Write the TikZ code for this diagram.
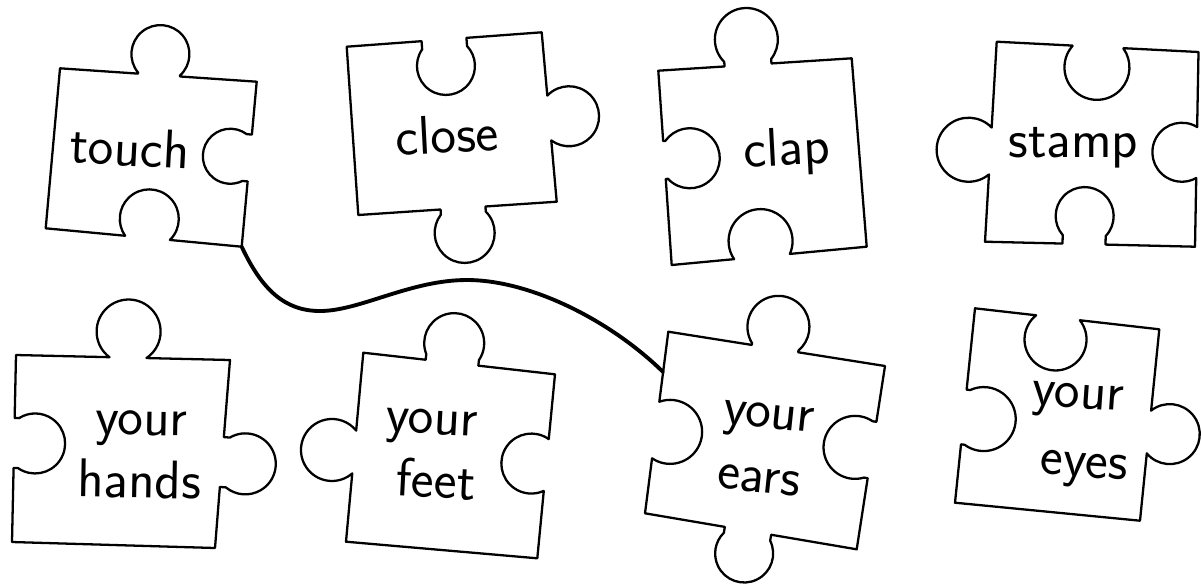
\documentclass[tikz,border=0pt]{standalone}
\usepackage{fontspec}
% puzzle-piece helpers: all numbers are image pixels (y downward)
\newcommand\PZstart[2]{\def\PZax{#1}\def\PZay{#2}\edef\PZpath{(#1,-#2)}}
% #1 type (1 tab, -1 notch, 0 flat), #2 knob position (x or y), #3 head radius,
% #4 half opening, #5 depth, #6 #7 end corner
\newcommand\PZedge[7]{%
  \ifnum#1=0\relax\else
    \pgfmathsetmacro\PZlen{veclen(#6-\PZax,#7-\PZay)}%
    \pgfmathsetmacro\PZux{(#6-\PZax)/\PZlen}%
    \pgfmathsetmacro\PZuy{(#7-\PZay)/\PZlen}%
    \pgfmathsetmacro\PZadx{abs(#6-\PZax)}%
    \pgfmathsetmacro\PZady{abs(#7-\PZay)}%
    \ifdim\PZadx pt>\PZady pt
      \pgfmathsetmacro\PZf{(#2-\PZax)/(#6-\PZax)}%
    \else
      \pgfmathsetmacro\PZf{(#2-\PZay)/(#7-\PZay)}%
    \fi
    \pgfmathsetmacro\PZpx{\PZax+\PZf*(#6-\PZax)}%
    \pgfmathsetmacro\PZpy{\PZay+\PZf*(#7-\PZay)}%
    \pgfmathsetmacro\PZc{sqrt(max(#3*#3-#4*#4,0))}%
    \pgfmathsetmacro\PZn{max(#5-#3-\PZc,0)}%
    \pgfmathsetmacro\PZal{asin(\PZc/#3)}%
    \pgfmathsetmacro\PZphi{atan2(\PZuy,\PZux)}%
    \pgfmathsetmacro\PZmx{\PZpx-#4*(\PZux)}%
    \pgfmathsetmacro\PZmy{-(\PZpy-#4*(\PZuy))}%
    \pgfmathsetmacro\PZnx{\PZpx-#4*(\PZux)+(#1)*\PZn*(\PZuy)}%
    \pgfmathsetmacro\PZny{-(\PZpy-#4*(\PZuy)-(#1)*\PZn*(\PZux))}%
    \pgfmathsetmacro\PZqx{\PZpx+#4*(\PZux)}%
    \pgfmathsetmacro\PZqy{-(\PZpy+#4*(\PZuy))}%
    \pgfmathsetmacro\PZts{-((\PZphi)+180-(#1)*\PZal)}%
    \pgfmathsetmacro\PZte{-((\PZphi)+180+(#1)*(180+\PZal))}%
    \edef\PZpath{\PZpath -- (\PZmx,\PZmy) -- (\PZnx,\PZny) arc[start angle=\PZts,end angle=\PZte,radius=#3] -- (\PZqx,\PZqy)}%
  \fi
  \edef\PZpath{\PZpath -- (#6,-#7)}%
  \def\PZax{#6}\def\PZay{#7}%
}
\newcommand\PZdo[1]{\draw[piece] #1 -- cycle;}
\newcommand\PZdraw{\expandafter\PZdo\expandafter{\PZpath}}
\begin{document}
\begin{tikzpicture}[x=0.02cm, y=0.02cm,
  piece/.style={line width=1.3pt, line join=round},
  link/.style={line width=2.2pt, line cap=round},
  lbl/.style={font=\fontsize{31}{36}\selectfont\sffamily, inner sep=0pt, anchor=base}]
\useasboundingbox (0,0) rectangle (1201,-586);

% touch
\PZstart{60}{68.3}
\PZedge{1}{159}{29}{21}{50}{256.7}{81.7}
\PZedge{-1}{158}{27.5}{23.5}{47}{241.7}{246.7}
\PZedge{-1}{147.5}{29.5}{22.5}{48}{45.7}{228.3}
\PZedge{0}{0}{0}{0}{0}{60}{68.3}
\PZdraw
\node[lbl, rotate=-3] (touch) at (129,-166) {touch};
\coordinate (touch-br) at (241.7,-246.7);

% close
\PZstart{346.7}{46.7}
\PZedge{-1}{444}{29}{22.5}{55.5}{541.7}{32.3}
\PZedge{1}{118}{30}{22.5}{48}{556.7}{201.7}
\PZedge{1}{463}{30}{22.5}{55}{358.3}{215}
\PZedge{0}{0}{0}{0}{0}{346.7}{46.7}
\PZdraw
\node[lbl, rotate=3] (close) at (448,-153) {close};

% clap
\PZstart{658.3}{70.7}
\PZedge{1}{748}{31.5}{23.5}{57}{851.7}{58.3}
\PZedge{0}{0}{0}{0}{0}{866.7}{246.7}
\PZedge{-1}{762}{32}{28}{47}{671.7}{265}
\PZedge{-1}{160}{30}{19}{55.4}{658.3}{70.7}
\PZdraw
\node[lbl, rotate=3] (clap) at (787.5,-165) {clap};

% stamp
\PZstart{996.7}{41.7}
\PZedge{-1}{1098}{32.5}{25.5}{53}{1198.5}{52}
\PZedge{-1}{152.5}{29.5}{25.5}{44}{1195}{246.7}
\PZedge{-1}{1084}{29}{21.5}{57}{985}{241.7}
\PZedge{1}{151}{32}{23.5}{52.5}{996.7}{41.7}
\PZdraw
\node[lbl] (stamp) at (1073.5,-157) {stamp};

% your hands
\PZstart{16}{355}
\PZedge{1}{128}{32}{18.5}{57.6}{230}{360}
\PZedge{1}{462}{30.5}{25}{54}{215}{548}
\PZedge{0}{0}{0}{0}{0}{12}{542}
\PZedge{-1}{443}{30}{25}{51}{16}{355}
\PZdraw
\node[lbl, rotate=-1] (hands1) at (141.5,-435) {your};
\node[lbl, rotate=-1] (hands) at (139,-498) {hands};

% your feet
\PZstart{363.3}{352.7}
\PZedge{1}{452}{30}{26.5}{49.7}{555}{374.3}
\PZedge{-1}{465}{30}{26}{45}{537.3}{558.3}
\PZedge{0}{0}{0}{0}{0}{346}{541.7}
\PZedge{1}{452}{31}{21.5}{49}{363.3}{352.7}
\PZdraw
\node[lbl, rotate=-3] (feet1) at (431,-434) {your};
\node[lbl, rotate=-3] (feet) at (435,-498) {feet};

% your ears
\PZstart{668.3}{331.7}
\PZedge{1}{775}{31}{23.5}{53}{885}{366}
\PZedge{-1}{450}{31.5}{28.5}{48.7}{856.7}{549.3}
\PZedge{1}{748}{29}{23.5}{52}{645}{513.3}
\PZedge{-1}{430}{32}{28.5}{44}{668.3}{331.7}
\PZdraw
\node[lbl, rotate=-6] (ears1) at (767.5,-428) {your};
\node[lbl, rotate=-6] (ears) at (757.5,-492) {ears};
\coordinate (ears-in) at (663.1,-372);

% your eyes
\PZstart{975}{308.3}
\PZedge{-1}{1058}{31}{22}{52}{1159.3}{329.3}
\PZedge{1}{432}{30}{21.5}{50}{1140}{520.7}
\PZedge{0}{0}{0}{0}{0}{955}{502.7}
\PZedge{-1}{417}{32}{27.5}{52}{975}{308.3}
\PZdraw
\node[lbl, rotate=-4] (eyes1) at (1077,-408) {your};
\node[lbl, rotate=-4] (eyes) at (1083,-477) {eyes};

% matching line
\draw[link] (touch-br) .. controls (262,-290) and (285,-311) .. (320,-311)
  .. controls (360,-311) and (410,-280) .. (467,-280)
  .. controls (530,-280) and (610,-320) .. (ears-in);
\end{tikzpicture}
\end{document}
